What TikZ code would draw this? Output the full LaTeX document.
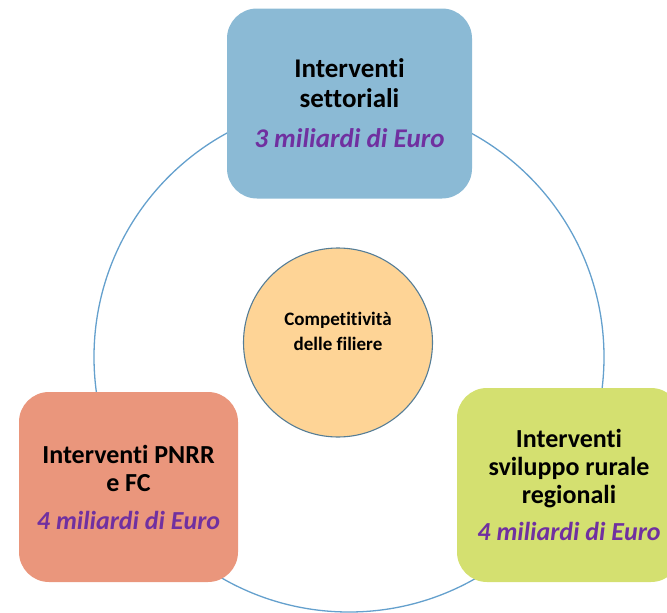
\documentclass[tikz,border=0pt]{standalone}
\usepackage{fontspec}
\setmainfont{Carlito}[Ligatures=NoCommon, RawFeature={-liga}]
\definecolor{ringblue}{RGB}{100,160,205}
\definecolor{boxblue}{RGB}{139,186,213}
\definecolor{boxsalmon}{RGB}{234,150,124}
\definecolor{boxgreen}{RGB}{212,224,112}
\definecolor{coreorange}{RGB}{254,212,150}
\definecolor{coreline}{RGB}{85,125,150}
\definecolor{eurpurple}{RGB}{112,48,160}
\tikzset{
  ring/.style={draw=ringblue, line width=1.3pt},
  fundbox/.style={rounded corners=30pt, inner sep=0pt, align=center, text=black, font=\bfseries},
  core/.style={circle, draw=coreline, line width=1.1pt, fill=coreorange, inner sep=0pt}
}
\newcommand{\eurtxt}[1]{\textcolor{eurpurple}{\itshape #1}}
\begin{document}
\begin{tikzpicture}[x=1pt,y=-1pt]
\useasboundingbox (0,0) rectangle (667,613);
\begin{scope}
\clip (0,0) rectangle (667,613);
% outer ring
\coordinate (ringc) at (349,357);
\draw[ring] (ringc) circle[radius=255];
% center
\node[core, minimum size=189pt] (core) at (338,342.5) {};
\node[font=\bfseries\fontsize{19}{25}\selectfont, align=center, inner sep=0pt] (coretext) at (338,331) {Competitività\\delle filiere};
% boxes
\node[fundbox, fill=boxblue, minimum width=245pt, minimum height=190pt, font=\bfseries\fontsize{27}{30}\selectfont] (top) at (349.5,103.5)
  {Interventi\\settoriali\\[10pt]\eurtxt{3 miliardi di Euro}};
\node[fundbox, fill=boxsalmon, minimum width=219pt, minimum height=190pt, font=\bfseries\fontsize{26}{28}\selectfont] (left) at (128.5,487)
  {Interventi PNRR\\e FC\\[10pt]\eurtxt{4 miliardi di Euro}};
\node[fundbox, fill=boxgreen, minimum width=224pt, minimum height=194pt, font=\bfseries\fontsize{26}{28}\selectfont] (right) at (569,485)
  {Interventi\\sviluppo rurale\\regionali\\[9pt]\eurtxt{4 miliardi di Euro}};
\end{scope}
\end{tikzpicture}
\end{document}
